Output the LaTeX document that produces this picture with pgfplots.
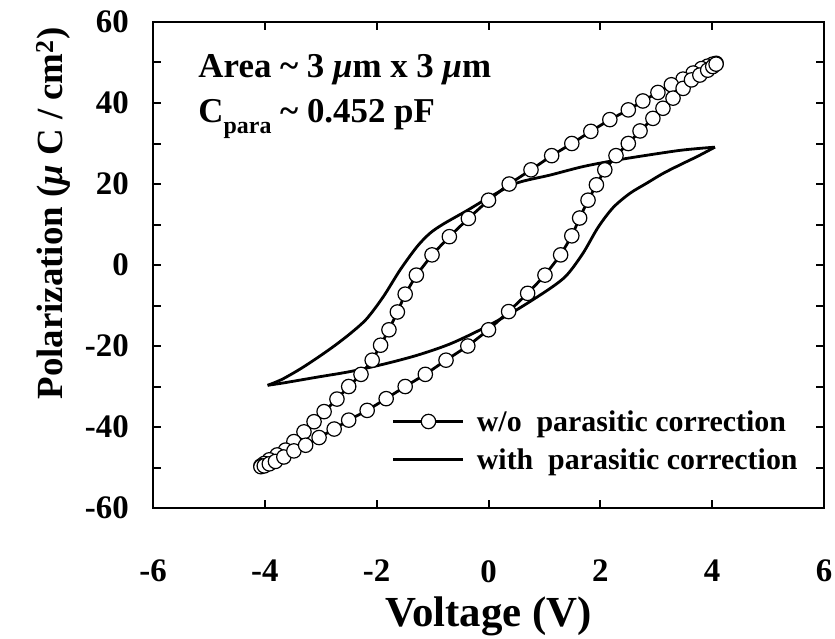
\documentclass[border=0pt]{standalone}
\usepackage{fontspec}
\setmainfont{Liberation Serif}
\usepackage{pgfplots}
\usepackage{pgfplotstable}
\pgfplotsset{compat=1.18}

\pgfplotstableread{
x y
4.07 49.8
4.01 49.6
3.92 49.1
3.81 48.5
3.66 47.4
3.48 45.9
3.27 44.5
3.03 42.6
2.76 40.5
2.50 38.3
2.17 35.9
1.83 33.0
1.49 30.0
1.13 27.0
0.76 23.5
0.37 20.0
0.00 16.0
-0.36 11.5
-0.70 7.0
-1.01 2.5
-1.29 -2.5
-1.49 -7.2
-1.63 -11.6
-1.78 -16.0
-1.93 -19.8
-2.08 -23.5
-2.28 -27.0
-2.50 -30.0
-2.71 -33.1
-2.94 -36.2
-3.12 -38.7
-3.30 -41.2
-3.48 -43.6
-3.63 -45.7
-3.78 -46.9
-3.92 -48.1
-4.01 -49.0
-4.07 -49.6
-4.07 -49.8
-4.01 -49.6
-3.92 -49.1
-3.81 -48.5
-3.66 -47.4
-3.48 -45.9
-3.27 -44.5
-3.03 -42.6
-2.76 -40.5
-2.50 -38.3
-2.17 -35.9
-1.83 -33.0
-1.49 -30.0
-1.13 -27.0
-0.76 -23.5
-0.37 -20.0
0.00 -16.0
0.36 -11.5
0.70 -7.0
1.01 -2.5
1.29 2.5
1.49 7.2
1.63 11.6
1.78 16.0
1.93 19.8
2.08 23.5
2.28 27.0
2.50 30.0
2.71 33.1
2.94 36.2
3.12 38.7
3.30 41.2
3.48 43.6
3.63 45.7
3.78 46.9
3.92 48.1
4.01 49.0
4.07 49.6
}\woloop

\pgfplotstableread{
x y
4.05 29.1
3.78 28.8
3.42 28.3
2.88 27.2
2.29 25.9
1.69 24.3
1.10 22.2
0.50 20.2
0.00 16.6
-0.39 13.4
-0.81 10.1
-1.05 7.8
-1.28 4.5
-1.58 -1.2
-1.88 -7.8
-2.18 -13.3
-2.47 -16.9
-2.77 -20.1
-3.07 -23.0
-3.37 -25.7
-3.66 -28.0
-3.82 -29.0
-3.95 -29.7
}\withdown

\pgfplotstableread{
x y
-3.95 -29.7
-3.66 -29.1
-3.07 -27.7
-2.47 -26.3
-1.88 -24.5
-1.28 -22.3
-0.69 -19.5
-0.09 -15.6
0.50 -11.1
1.10 -5.8
1.40 -2.5
1.69 2.9
1.96 9.3
2.23 14.2
2.53 17.7
2.83 20.2
3.12 22.6
3.42 24.7
3.72 26.7
3.90 28.0
4.05 29.1
}\withup

\begin{document}
\begin{tikzpicture}
\begin{axis}[
  scale only axis,
  width=671bp, height=486bp,
  xmin=-6, xmax=6, ymin=-60, ymax=60,
  axis line style={line width=2.2bp},
  xtick={-6,-4,-2,0,2,4,6},
  xticklabels={-6,-4,-2,0,2,4,6},
  ytick={-60,-40,-20,0,20,40,60},
  yticklabels={-60,-40,-20,0,20,40,60},
  minor ytick={-50,-30,-10,10,30,50},
  tick align=inside,
  major tick length=8bp, minor tick length=8bp,
  every tick/.style={black, line width=2bp},
  tick label style={font=\fontsize{33}{33}\selectfont\bfseries},
  xticklabel style={inner sep=0pt, yshift=-52bp},
  yticklabel style={inner sep=0pt, xshift=-24bp},
  every axis x label/.style={at={(axis description cs:0.5,-0.243)}, anchor=base},
  every axis y label/.style={at={(axis description cs:-0.1356,0.606)}, rotate=90, anchor=base},
  xlabel={\fontsize{43}{43}\selectfont\bfseries Voltage (V)},
  ylabel={\fontsize{37}{37}\selectfont\bfseries Polarization (\textit{μ} C / cm\textsuperscript{2})},
  legend image code/.code={\draw[mark repeat=2,mark phase=2,#1] plot coordinates {(0bp,0bp) (35bp,0bp) (70bp,0bp)};},
  legend style={at={(axis description cs:0.356,0.072)}, anchor=south west, draw=none, fill=none,
    font=\fontsize{30}{30}\selectfont\bfseries, row sep=12bp, column sep=10bp, inner sep=0pt},
  legend cell align=left,
]
\addplot[black, line width=2.8bp, mark=*, mark size=7.2bp,
  mark options={fill=white, draw=black, line width=1.2bp}] table[x=x,y=y] {\woloop};
\addlegendentry{w/o\ \ parasitic correction}
\addplot[black, line width=2.8bp, smooth] table[x=x,y=y] {\withdown};
\addlegendentry{with\ \ parasitic correction}
\addplot[black, line width=2.8bp, smooth, forget plot] table[x=x,y=y] {\withup};

\node[anchor=base west, inner sep=0pt, font=\fontsize{35}{35}\selectfont\bfseries]
  at (axis cs:-5.19,46.2) {Area \textasciitilde\ 3 \textit{μ}m x 3 \textit{μ}m};
\node[anchor=base west, inner sep=0pt, font=\fontsize{35}{35}\selectfont\bfseries]
  at (axis cs:-5.19,35.3) {C\raisebox{-11bp}{\fontsize{24}{24}\selectfont para} \textasciitilde\ 0.452 pF};
\end{axis}
\pgfresetboundingbox
\path[use as bounding box] ([xshift=-153bp,yshift=-130bp]current axis.south west) rectangle ([xshift=11bp,yshift=22bp]current axis.north east);
\end{tikzpicture}
\end{document}
